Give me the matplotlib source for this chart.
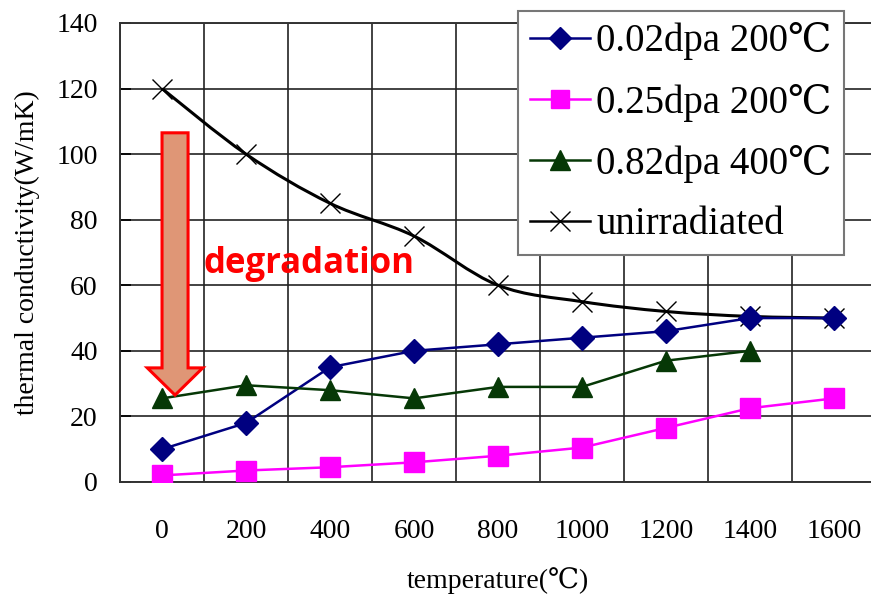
import matplotlib
matplotlib.use("Agg")
import matplotlib.pyplot as plt
import numpy as np
from matplotlib.lines import Line2D
from matplotlib.patches import FancyArrow, PathPatch
from matplotlib.path import Path

plt.rcParams["font.family"] = ["Liberation Serif", "DejaVu Serif"]

# data
temps = ["0", "200", "400", "600", "800", "1000", "1200", "1400", "1600"]
dpa002_200 = [10, 18, 35, 40, 42, 44, 46, 50, 50]
dpa025_200 = [2, 3.5, 4.5, 6, 8, 10.5, 16.5, 22.5, 25.5]
dpa082_400 = [25.5, 29.5, 28, 25.5, 29, 29, 37, 40]
unirradiated = [120, 100, 85, 75, 60, 55, 52, 50.5, 50]

labels = ["0.02dpa 200℃", "0.25dpa 200℃", "0.82dpa 400℃", "unirradiated"]
colors = ["#000080", "#FF00FF", "#063806", "#000000"]


def smooth_path(xs, ys):
    # Excel style smoothed line: cubic bezier through every point
    p = np.column_stack([xs, ys]).astype(float)
    n = len(p)
    verts = [p[0]]
    codes = [Path.MOVETO]
    for i in range(n - 1):
        p0 = p[i - 1] if i > 0 else p[i]
        p3 = p[i + 2] if i + 2 < n else p[i + 1]
        c1 = p[i] + (p[i + 1] - p0) / 6
        c2 = p[i + 1] - (p3 - p[i]) / 6
        verts += [c1, c2, p[i + 1]]
        codes += [Path.CURVE4] * 3
    return Path(verts, codes)


fig = plt.figure(figsize=(8.71, 6.0), dpi=100)
ax = fig.add_axes([0.1378, 0.1967, 0.8680, 0.7650])

x = np.arange(len(temps))

ax.plot(x, dpa002_200, color=colors[0], lw=1.8, marker="D", ms=12, zorder=4)
ax.plot(x, dpa025_200, color=colors[1], lw=1.8, marker="s", ms=14, zorder=4)
ax.plot(x[:len(dpa082_400)], dpa082_400, color=colors[2], lw=1.8, marker="^", ms=15, zorder=4)
ax.add_patch(PathPatch(smooth_path(x, unirradiated), facecolor="none",
                       edgecolor=colors[3], lw=2.2, zorder=3))
ax.plot(x, unirradiated, color=colors[3], ls="none", marker="x", ms=15, mew=1.0, zorder=3)

ax.set_xlim(-0.5, len(temps) - 0.5)
ax.set_ylim(0, 140)
ax.set_yticks(np.arange(0, 141, 20))
ax.set_xticks(x)
ax.set_xticklabels(temps)
ax.set_xticks(np.arange(-0.5, len(temps)), minor=True)
ax.grid(True, which="minor", axis="x", color="#222222", lw=1.2)
ax.grid(True, which="major", axis="y", color="#222222", lw=1.2)
ax.set_axisbelow(True)
ax.tick_params(axis="x", which="major", length=0, pad=27, labelsize=20)
ax.tick_params(axis="x", which="minor", length=0)
ax.tick_params(axis="y", direction="in", length=8, width=1.2, pad=16, labelsize=20)
for s in ax.spines.values():
    s.set_color("#333333")
    s.set_linewidth(1.4)

ax.set_xlabel("temperature(℃)", fontsize=20, labelpad=16)
ax.set_ylabel("thermal conductivity(W/mK)", fontsize=20, labelpad=12)

# degradation arrow + label
ax.add_patch(FancyArrow(0.155, 106.5, 0, -80, width=0.31, head_width=0.66,
                        head_length=8.3, length_includes_head=True,
                        facecolor="#DF9676", edgecolor="#FF0000", lw=2.2, zorder=5))
ax.text(0.49, 66.5, "degradation", color="#FF0000", fontsize=25, fontweight="bold",
        family=["Open Sans", "DejaVu Sans"], ha="left", va="center", zorder=6)

handles = [
    Line2D([], [], color=colors[0], lw=1.8, marker="D", ms=11),
    Line2D([], [], color=colors[1], lw=1.8, marker="s", ms=13),
    Line2D([], [], color=colors[2], lw=1.8, marker="^", ms=14),
    Line2D([], [], color=colors[3], lw=1.8, marker="x", ms=15, mew=1.0),
]
leg = ax.legend(handles, labels, loc="upper left", bbox_to_anchor=(0.527, 1.027),
                borderaxespad=0, fontsize=28, frameon=True, fancybox=False,
                framealpha=1, edgecolor="#777777", handlelength=1.55,
                handletextpad=0.15, labelspacing=0.6, borderpad=0.3, numpoints=1)
leg.get_frame().set_linewidth(1.5)
leg.set_zorder(10)

fig.savefig("out.png", dpi=100)
